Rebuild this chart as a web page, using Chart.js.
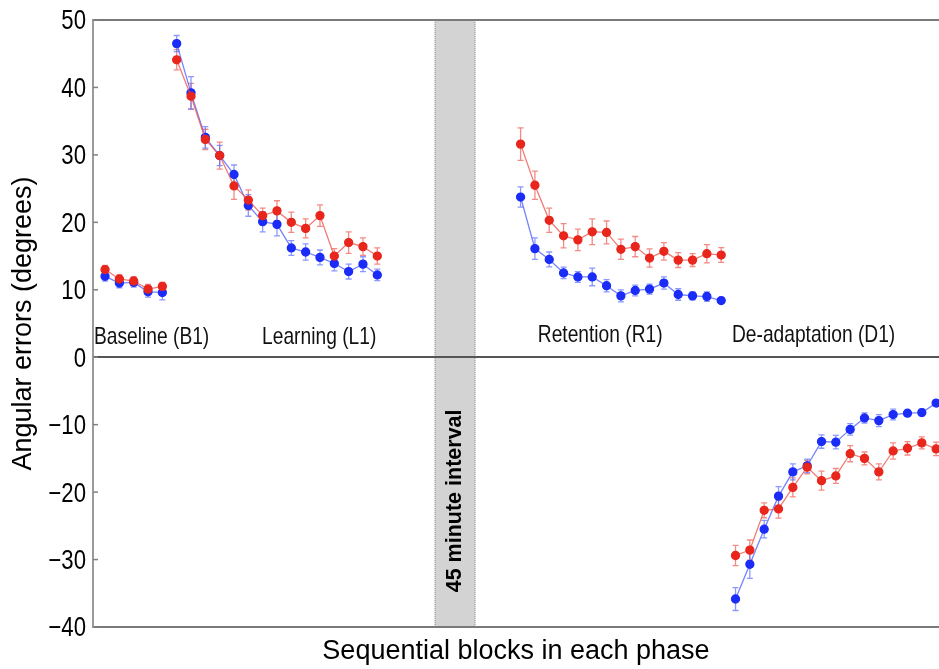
<!DOCTYPE html>
<html>
<head>
<meta charset="utf-8">
<script src="https://cdn.jsdelivr.net/npm/chart.js@4/dist/chart.umd.min.js"></script>
<style>
  html, body { margin: 0; padding: 0; background: #fff; }
  canvas { display: block; }
</style>
</head>
<body>
<canvas id="graficaFases" width="939" height="669"></canvas>
<script>
// block number where each phase starts on the x axis
const phaseStart = [0, 5, 29, 44];
const phaseNames = ['Baseline (B1)', 'Learning (L1)', 'Retention (R1)', 'De-adaptation (D1)'];
const yTicks = [-40, -30, -20, -10, 0, 10, 20, 30, 40, 50];

// mean angular error per block and its error bar (degrees)
const baselineBlue = [12.0, 11.0, 11.1, 9.7, 9.6];
const baselineBlueErr = [0.7, 0.7, 0.7, 0.8, 1.1];
const baselineRed = [13.0, 11.6, 11.3, 10.1, 10.5];
const baselineRedErr = [0.6, 0.6, 0.6, 0.7, 0.6];

const learningBlue = [46.5, 39.2, 32.6, 29.9, 27.1, 22.5, 20.1, 19.7, 16.2, 15.6, 14.8, 13.9, 12.7, 13.8, 12.2];
const learningBlueErr = [1.2, 2.4, 1.6, 1.5, 1.4, 1.6, 1.5, 1.7, 1.1, 1.2, 1.1, 1.1, 1.1, 1.1, 0.85];
const learningRed = [44.1, 38.7, 32.3, 29.9, 25.4, 23.3, 21.0, 21.7, 20.0, 19.1, 21.0, 15.0, 17.0, 16.4, 15.0];
const learningRedErr = [1.5, 1.9, 1.5, 2.0, 2.0, 1.5, 1.1, 1.5, 1.5, 1.4, 1.6, 1.1, 1.6, 1.3, 1.2];

const retentionBlue = [23.75, 16.1, 14.5, 12.5, 11.9, 11.9, 10.6, 9.1, 9.9, 10.1, 11.0, 9.3, 9.1, 9.0, 8.4];
const retentionBlueErr = [1.5, 1.6, 1.1, 0.85, 0.8, 1.3, 0.9, 0.9, 0.8, 0.75, 0.9, 0.85, 0.6, 0.7, 0.35];
const retentionRed = [31.6, 25.5, 20.3, 18.0, 17.4, 18.6, 18.5, 16.0, 16.4, 14.7, 15.7, 14.4, 14.4, 15.35, 15.15];
const retentionRedErr = [2.4, 2.1, 1.8, 1.8, 1.6, 1.9, 1.7, 1.5, 1.5, 1.35, 1.3, 1.1, 0.95, 1.35, 1.1];

const deadaptBlue = [-35.85, -30.7, -25.5, -20.6, -17.0, -16.1, -12.5, -12.6, -10.7, -9.0, -9.4, -8.5, -8.3, -8.2, -6.8];
const deadaptBlueErr = [1.7, 2.1, 1.3, 1.4, 1.2, 1.0, 1.0, 1.0, 0.85, 0.75, 0.9, 0.8, 0.4, 0.5, 0.3];
const deadaptRed = [-29.4, -28.6, -22.7, -22.5, -19.3, -16.3, -18.3, -17.6, -14.3, -15.0, -17.0, -13.9, -13.5, -12.7, -13.6];
const deadaptRedErr = [1.5, 1.5, 1.1, 1.35, 1.4, 1.0, 1.4, 1.1, 1.2, 0.95, 1.2, 1.2, 1.0, 0.9, 1.0];

const FONT = "'Liberation Sans', Arial, Helvetica, sans-serif";
const colores = {
  red: { dot: '#e8261c', line: 'rgba(236, 80, 70, 0.75)', err: 'rgba(236, 90, 80, 0.7)' },
  blue: { dot: '#1b2cf7', line: 'rgba(70, 90, 255, 0.75)', err: 'rgba(90, 110, 255, 0.7)' }
};

function serie(values, errors, phase, color) {
  const c = colores[color];
  return {
    data: values.map((v, i) => ({ x: phaseStart[phase] + i, y: v })),
    errorBars: errors,
    borderColor: c.line,
    borderWidth: 1.3,
    backgroundColor: c.dot,
    pointBackgroundColor: c.dot,
    pointBorderColor: c.dot,
    pointRadius: 4,
    errColor: c.err,
    tension: 0
  };
}

// red first so it sits on top of the blue series
const datasets = [
  serie(baselineRed, baselineRedErr, 0, 'red'),
  serie(learningRed, learningRedErr, 1, 'red'),
  serie(retentionRed, retentionRedErr, 2, 'red'),
  serie(deadaptRed, deadaptRedErr, 3, 'red'),
  serie(baselineBlue, baselineBlueErr, 0, 'blue'),
  serie(learningBlue, learningBlueErr, 1, 'blue'),
  serie(retentionBlue, retentionBlueErr, 2, 'blue'),
  serie(deadaptBlue, deadaptBlueErr, 3, 'blue')
];

function squeezed(ctx, text, x, y, sx) {
  ctx.save();
  ctx.translate(x, y);
  ctx.scale(sx, 1);
  ctx.fillText(text, 0, 0);
  ctx.restore();
}

// grey band for the break between sessions
const intervalBand = {
  id: 'intervalBand',
  beforeDraw(chart, args, opts) {
    const { ctx, chartArea, scales } = chart;
    const x0 = scales.x.getPixelForValue(opts.from);
    const x1 = scales.x.getPixelForValue(opts.to);
    ctx.save();
    ctx.fillStyle = '#d3d3d3';
    ctx.fillRect(x0, chartArea.top, x1 - x0, chartArea.bottom - chartArea.top);
    ctx.strokeStyle = '#9a9a9a';
    ctx.lineWidth = 1;
    ctx.setLineDash([1, 1]);
    ctx.beginPath();
    ctx.moveTo(x0 + 0.5, chartArea.top);
    ctx.lineTo(x0 + 0.5, chartArea.bottom);
    ctx.moveTo(x1 - 0.5, chartArea.top);
    ctx.lineTo(x1 - 0.5, chartArea.bottom);
    ctx.stroke();
    ctx.restore();
  },
  afterDatasetsDraw(chart, args, opts) {
    const { ctx, scales } = chart;
    const cx = scales.x.getPixelForValue((opts.from + opts.to) / 2);
    const cy = scales.y.getPixelForValue(opts.labelAt);
    ctx.save();
    ctx.translate(cx, cy);
    ctx.rotate(-Math.PI / 2);
    ctx.font = 'bold 21.5px ' + FONT;
    ctx.fillStyle = '#000';
    ctx.textAlign = 'center';
    ctx.textBaseline = 'middle';
    ctx.fillText(opts.label, 0, 0);
    ctx.restore();
  }
};

const errorBars = {
  id: 'errorBars',
  beforeDatasetsDraw(chart) {
    const { ctx, scales } = chart;
    ctx.save();
    ctx.lineWidth = 1.3;
    chart.data.datasets.forEach((ds, i) => {
      const meta = chart.getDatasetMeta(i);
      ctx.strokeStyle = ds.errColor;
      meta.data.forEach((pt, j) => {
        const v = ds.data[j].y;
        const e = ds.errorBars[j];
        const top = scales.y.getPixelForValue(v + e);
        const bot = scales.y.getPixelForValue(v - e);
        ctx.beginPath();
        ctx.moveTo(pt.x, top);
        ctx.lineTo(pt.x, bot);
        ctx.moveTo(pt.x - 3, top);
        ctx.lineTo(pt.x + 3, top);
        ctx.moveTo(pt.x - 3, bot);
        ctx.lineTo(pt.x + 3, bot);
        ctx.stroke();
      });
    });
    ctx.restore();
  }
};

// narrow tick labels, inward ticks and the phase names
const axisText = {
  id: 'axisText',
  afterDraw(chart) {
    const { ctx, scales, chartArea } = chart;
    const y = scales.y;
    ctx.save();
    ctx.strokeStyle = '#808080';
    ctx.lineWidth = 1.5;
    ctx.fillStyle = '#000';
    ctx.font = '27px ' + FONT;
    ctx.textAlign = 'right';
    ctx.textBaseline = 'middle';
    y.ticks.forEach(t => {
      const py = y.getPixelForValue(t.value);
      ctx.beginPath();
      ctx.moveTo(chartArea.left, py);
      ctx.lineTo(chartArea.left + 5, py);
      ctx.stroke();
      const txt = String(t.value).replace('-', '\u2212');
      squeezed(ctx, txt, chartArea.left - 7, py + 2, 0.82);
    });

    ctx.font = '24px ' + FONT;
    ctx.textAlign = 'left';
    ctx.textBaseline = 'alphabetic';
    ctx.fillStyle = '#111';
    const anchors = [[-0.77, 1.9], [10.96, 1.9], [30.2, 2.3], [43.75, 2.3]];
    phaseNames.forEach((name, i) => {
      const px = scales.x.getPixelForValue(anchors[i][0]);
      const py = y.getPixelForValue(anchors[i][1]);
      squeezed(ctx, name, px, py, 0.8);
    });
    ctx.restore();
  }
};

const ctx = document.getElementById('graficaFases').getContext('2d');
const chart = new Chart(ctx, {
  type: 'line',
  data: { datasets: datasets },
  options: {
    responsive: false,
    devicePixelRatio: 1,
    animation: false,
    layout: { autoPadding: false, padding: { top: 20, right: 0, bottom: 0, left: 0 } },
    plugins: {
      legend: { display: false },
      tooltip: { enabled: false },
      intervalBand: { from: 23.0, to: 25.85, label: '45 minute interval', labelAt: -21.3 }
    },
    scales: {
      x: {
        type: 'linear',
        min: -0.84,
        max: 58.2,
        ticks: { display: false },
        grid: { display: false, drawTicks: false },
        border: { display: true, color: '#7a7a7a', width: 2 },
        title: {
          display: true,
          text: 'Sequential blocks in each phase',
          color: '#000',
          font: { family: FONT, size: 27 },
          padding: { top: 0, bottom: 1 }
        },
        afterFit: s => { s.height = 42; }
      },
      y: {
        min: -40,
        max: 50,
        afterBuildTicks: s => { s.ticks = yTicks.map(v => ({ value: v })); },
        ticks: { display: false },
        grid: {
          drawTicks: false,
          lineWidth: 2,
          color: c => {
            if (c.tick && c.tick.value === 0) return '#555555';
            if (c.tick && c.tick.value === 50) return '#7a7a7a';
            return 'rgba(0,0,0,0)';
          }
        },
        border: { display: true, color: '#9a9a9a', width: 2 },
        title: {
          display: true,
          text: 'Angular errors (degrees)',
          color: '#000',
          font: { family: FONT, size: 27 },
          padding: { top: 7, bottom: 0 }
        },
        afterFit: s => { s.width = 93; }
      }
    }
  },
  plugins: [intervalBand, errorBars, axisText]
});
</script>
</body>
</html>
